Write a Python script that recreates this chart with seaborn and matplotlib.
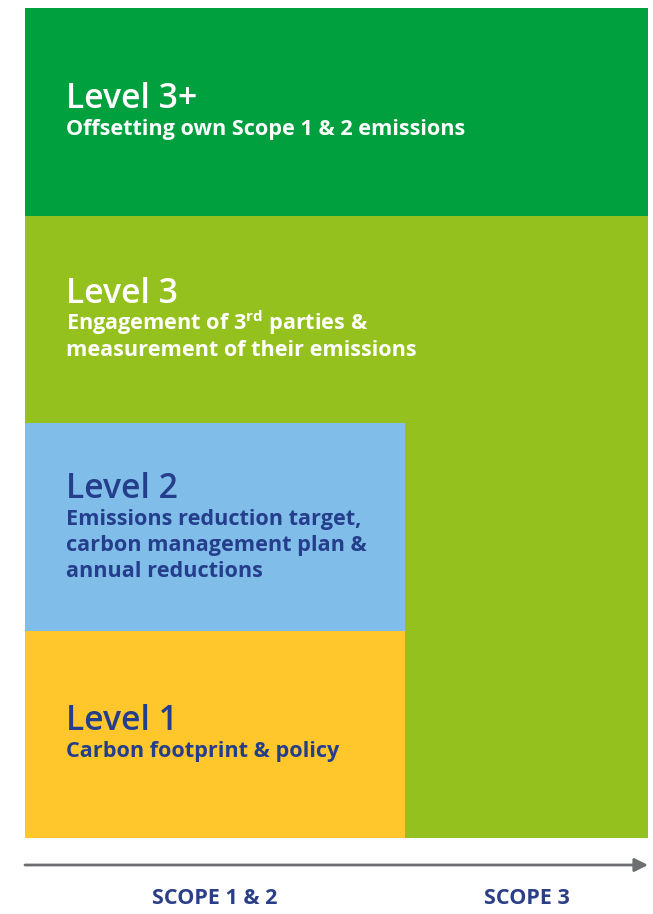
import matplotlib as mpl
import matplotlib.pyplot as plt
import seaborn as sns

sns.set_theme(style="white")
mpl.rc('font', family=['Open Sans', 'DejaVu Sans'])
mpl.rc('mathtext', default='regular')

# columns along the bottom arrow
scopes = ["SCOPE 1 & 2", "SCOPE 3"]

# blocks of the diagram: which column, which level, stacked bottom and height
block_scope = [0, 0, 0, 0, 1, 1]
block_level = [0, 1, 2, 3, 2, 3]
block_bottom = [0, 1, 2, 3, 0, 3]
block_height = [1, 1, 1, 1, 3, 1]

levels = ["Level 1", "Level 2", "Level 3", "Level 3+"]
descriptions = [
    ["Carbon footprint & policy"],
    ["Emissions reduction target,", "carbon management plan &", "annual reductions"],
    ["Engagement of 3$^{rd}$ parties &", "measurement of their emissions"],
    ["Offsetting own Scope 1 & 2 emissions"],
]
level_colors = ["#FFC72C", "#80BDE9", "#95C11F", "#00A03E"]
text_colors = ["#253E8C", "#253E8C", "white", "white"]

# column geometry (pixels of the original layout)
col_left = [0, 380]
col_width = [380, 243]
PT = 0.72  # px -> pt at 100 dpi

fig = plt.figure(figsize=(6.53, 9.14), dpi=100)
ax = fig.add_axes([25 / 653, 76 / 914, 623 / 653, 830 / 914])

for s, lv, b, h in zip(block_scope, block_level, block_bottom, block_height):
    ax.bar(col_left[s], h, width=col_width[s], bottom=b, align='edge',
           color=level_colors[lv], linewidth=0)

head_font = ['Open Sans SemiBold', 'Open Sans', 'DejaVu Sans']
for i, (name, lines) in enumerate(zip(levels, descriptions)):
    up = (len(lines) - 1) * 12.5 + 4
    ax.annotate(name, xy=(0, i + 0.5), xytext=(41 * PT, up * PT),
                textcoords='offset points', va='baseline', ha='left',
                fontsize=24.3, fontweight='semibold', family=head_font,
                color=text_colors[i])
    for k, line in enumerate(lines):
        ax.annotate(line, xy=(0, i + 0.5),
                    xytext=(41 * PT, (up - 27 - 26 * k) * PT),
                    textcoords='offset points', va='baseline', ha='left',
                    fontsize=15.6, fontweight='bold', color=text_colors[i])

ax.set_xlim(0, sum(col_width))
ax.set_ylim(0, len(levels))
ax.set_yticks([])
ax.set_xticks([col_left[k] + col_width[k] / 2 for k in range(len(scopes))])
ax.set_xticklabels(scopes, fontsize=15.5, fontweight='bold', color="#2B3F86")
ax.tick_params(axis='x', length=0, pad=36)
sns.despine(ax=ax, left=True, bottom=True)

# arrow under the blocks
y_arrow = -27 / 830
ax.annotate('', xy=(1.0, y_arrow), xytext=(0.0, y_arrow),
            xycoords='axes fraction', annotation_clip=False,
            arrowprops=dict(arrowstyle='-|>', color='#6D6E71', lw=2,
                            mutation_scale=20, shrinkA=0, shrinkB=0))

fig.savefig('out.png', dpi=100)
